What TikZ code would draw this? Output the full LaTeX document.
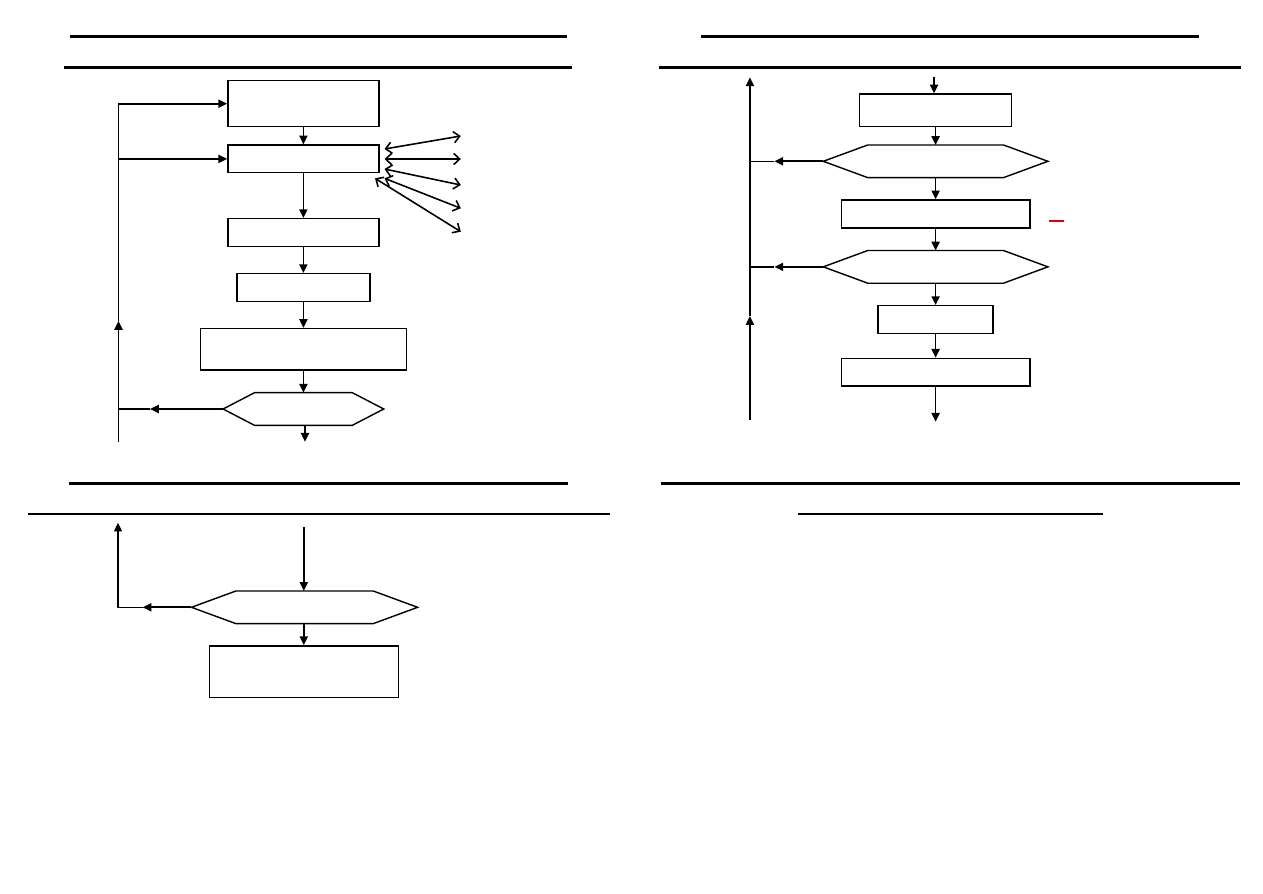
\documentclass[tikz,border=0pt]{standalone}
\usetikzlibrary{arrows.meta}
\definecolor{fcInk}{HTML}{000000}
\definecolor{fcMark}{HTML}{E00000}
\newcommand{\fchex}[2]{%
  \draw[hexline] (#1.west) -- ([xshift=#2]#1.north west)
    -- ([xshift=-#2]#1.north east) -- (#1.east)
    -- ([xshift=-#2]#1.south east) -- ([xshift=#2]#1.south west) -- cycle;}
\begin{document}
\begin{tikzpicture}[
  x=0.02cm, y=-0.02cm,
  flowbox/.style={draw=fcInk, line width=.8pt, inner sep=0pt},
  hexbox/.style={draw=none, inner sep=0pt, minimum height=0.64cm},
  hexline/.style={draw=fcInk, line width=.8pt, line join=miter},
  rule/.style={fcInk, line width=1.5pt},
  flow/.style={fcInk, line width=1pt, -{Triangle[length=5pt,width=4.6pt]}},
  link/.style={fcInk, line width=1pt},
  twoway/.style={fcInk, line width=.9pt,
    {Straight Barb[length=3.4pt,width=6.4pt]}-{Straight Barb[length=3.4pt,width=6.4pt]}},
]
\useasboundingbox (0,0) rectangle (1263,893);

% ---- heading rules -------------------------------------------------------
\draw[rule] (69.6,36.7) -- (566.6,36.7);
\draw[rule] (63.9,67.7) -- (571.5,67.7);
\draw[rule] (701.3,36.7) -- (1199.3,36.7);
\draw[rule] (659,67.7) -- (1240.8,67.7);
\draw[rule] (69.4,483.3) -- (568.2,483.3);
\draw[rule] (27.9,514) -- (609.7,514);
\draw[rule] (660.6,483.3) -- (1239.6,483.3);
\draw[rule] (798.1,514) -- (1102.5,514);

% ---- upper left chart ----------------------------------------------------
\node[flowbox, minimum width=3.02cm, minimum height=0.92cm] (b1) at (303.4,103.7) {};
\node[flowbox, minimum width=3.02cm, minimum height=0.55cm] (b2) at (303.4,158.9) {};
\node[flowbox, minimum width=3.02cm, minimum height=0.55cm] (b3) at (303.4,232.5) {};
\node[flowbox, minimum width=2.66cm, minimum height=0.55cm] (b4) at (303.4,287.5) {};
\node[flowbox, minimum width=4.12cm, minimum height=0.83cm] (b5) at (303.4,349.35) {};
\node[hexbox, minimum width=3.20cm] (h1) at (303.4,409) {};
\fchex{h1}{0.63cm}

\coordinate (h1out) at (305,441.7);
\coordinate (h1lead) at (150,409);
\coordinate (l1bot) at (118.5,441.7);
\coordinate (l1mid) at (118.5,321);

\draw[flow] (b1) -- (b2);
\draw[flow] (b2) -- (b3);
\draw[flow] (b3) -- (b4);
\draw[flow] (b4) -- (b5);
\draw[flow] (b5) -- (h1);
\draw[flow] (h1.south -| h1out) -- (h1out);
\draw[flow] (h1.west) -- (h1lead);
\draw[link] (h1lead) -- (l1mid |- h1lead);
\draw[flow] (l1bot) -- (l1mid);
\draw[flow] (l1mid) |- (b1.west);
\draw[flow] (l1mid |- b2.west) -- (b2.west);

% two-way links off the second box
\foreach \ix/\iy/\ox/\oy [count=\k] in {384.5/149/460.8/136,
    384.5/159/460.8/159, 384.5/169/460.8/185,
    384.5/178.3/460.8/208.3, 375/178.3/460.8/231.7}{%
  \coordinate (tw\k in) at (\ix,\iy);
  \coordinate (tw\k out) at (\ox,\oy);
  \draw[twoway] (tw\k in) -- (tw\k out);}

% ---- upper right chart ---------------------------------------------------
\node[flowbox, minimum width=3.04cm, minimum height=0.65cm] (bA) at (935.6,110.35) {};
\node[hexbox, minimum width=4.48cm] (hA) at (935.6,161.3) {};
\fchex{hA}{0.89cm}
\node[flowbox, minimum width=3.77cm, minimum height=0.56cm] (bB) at (935.6,214) {};
\node[hexbox, minimum width=4.48cm] (hB) at (935.6,266.85) {};
\fchex{hB}{0.89cm}
\node[flowbox, minimum width=2.30cm, minimum height=0.55cm] (bC) at (935.6,319.5) {};
\node[flowbox, minimum width=3.77cm, minimum height=0.55cm] (bD) at (935.6,372.15) {};

\coordinate (aIn) at (934,77.3);
\coordinate (dOut) at (935.6,421.7);
\coordinate (hAlead) at (774.4,161.3);
\coordinate (hBlead) at (774.4,266.85);
\coordinate (r2bot) at (749.9,420);
\coordinate (r2mid) at (749.9,316);
\coordinate (r2top) at (749.9,77.3);

\draw[flow] (aIn) -- (aIn |- bA.north);
\draw[flow] (bA) -- (hA);
\draw[flow] (hA) -- (bB);
\draw[flow] (bB) -- (hB);
\draw[flow] (hB) -- (bC);
\draw[flow] (bC) -- (bD);
\draw[flow] (bD) -- (dOut);
\draw[flow] (hA.west) -- (hAlead);
\draw[link, line width=.5pt] (hAlead) -- (r2mid |- hAlead);
\draw[flow] (hB.west) -- (hBlead);
\draw[link] (hBlead) -- (r2mid |- hBlead);
\draw[flow] (r2bot) -- (r2mid);
\draw[flow] (r2mid) -- (r2top);
\draw[fcMark, line width=.6pt] (1049,221) -- (1063.7,221);

% ---- lower left chart ----------------------------------------------------
\node[hexbox, minimum width=4.51cm] (hC) at (304.55,607.3) {};
\fchex{hC}{0.89cm}
\node[flowbox, minimum width=3.78cm, minimum height=1.03cm] (bE) at (304.2,671.65) {};

\coordinate (cIn) at (303.8,527.3);
\coordinate (hClead) at (142.5,607.3);
\coordinate (cUp) at (118,522.7);

\draw[flow] (cIn) -- (cIn |- hC.north);
\draw[flow] (hC.south -| cIn) -- (cIn |- bE.north);
\draw[flow] (hC.west) -- (hClead);
\draw[flow, line width=.6pt] (hClead) -| (cUp);
\end{tikzpicture}
\end{document}
